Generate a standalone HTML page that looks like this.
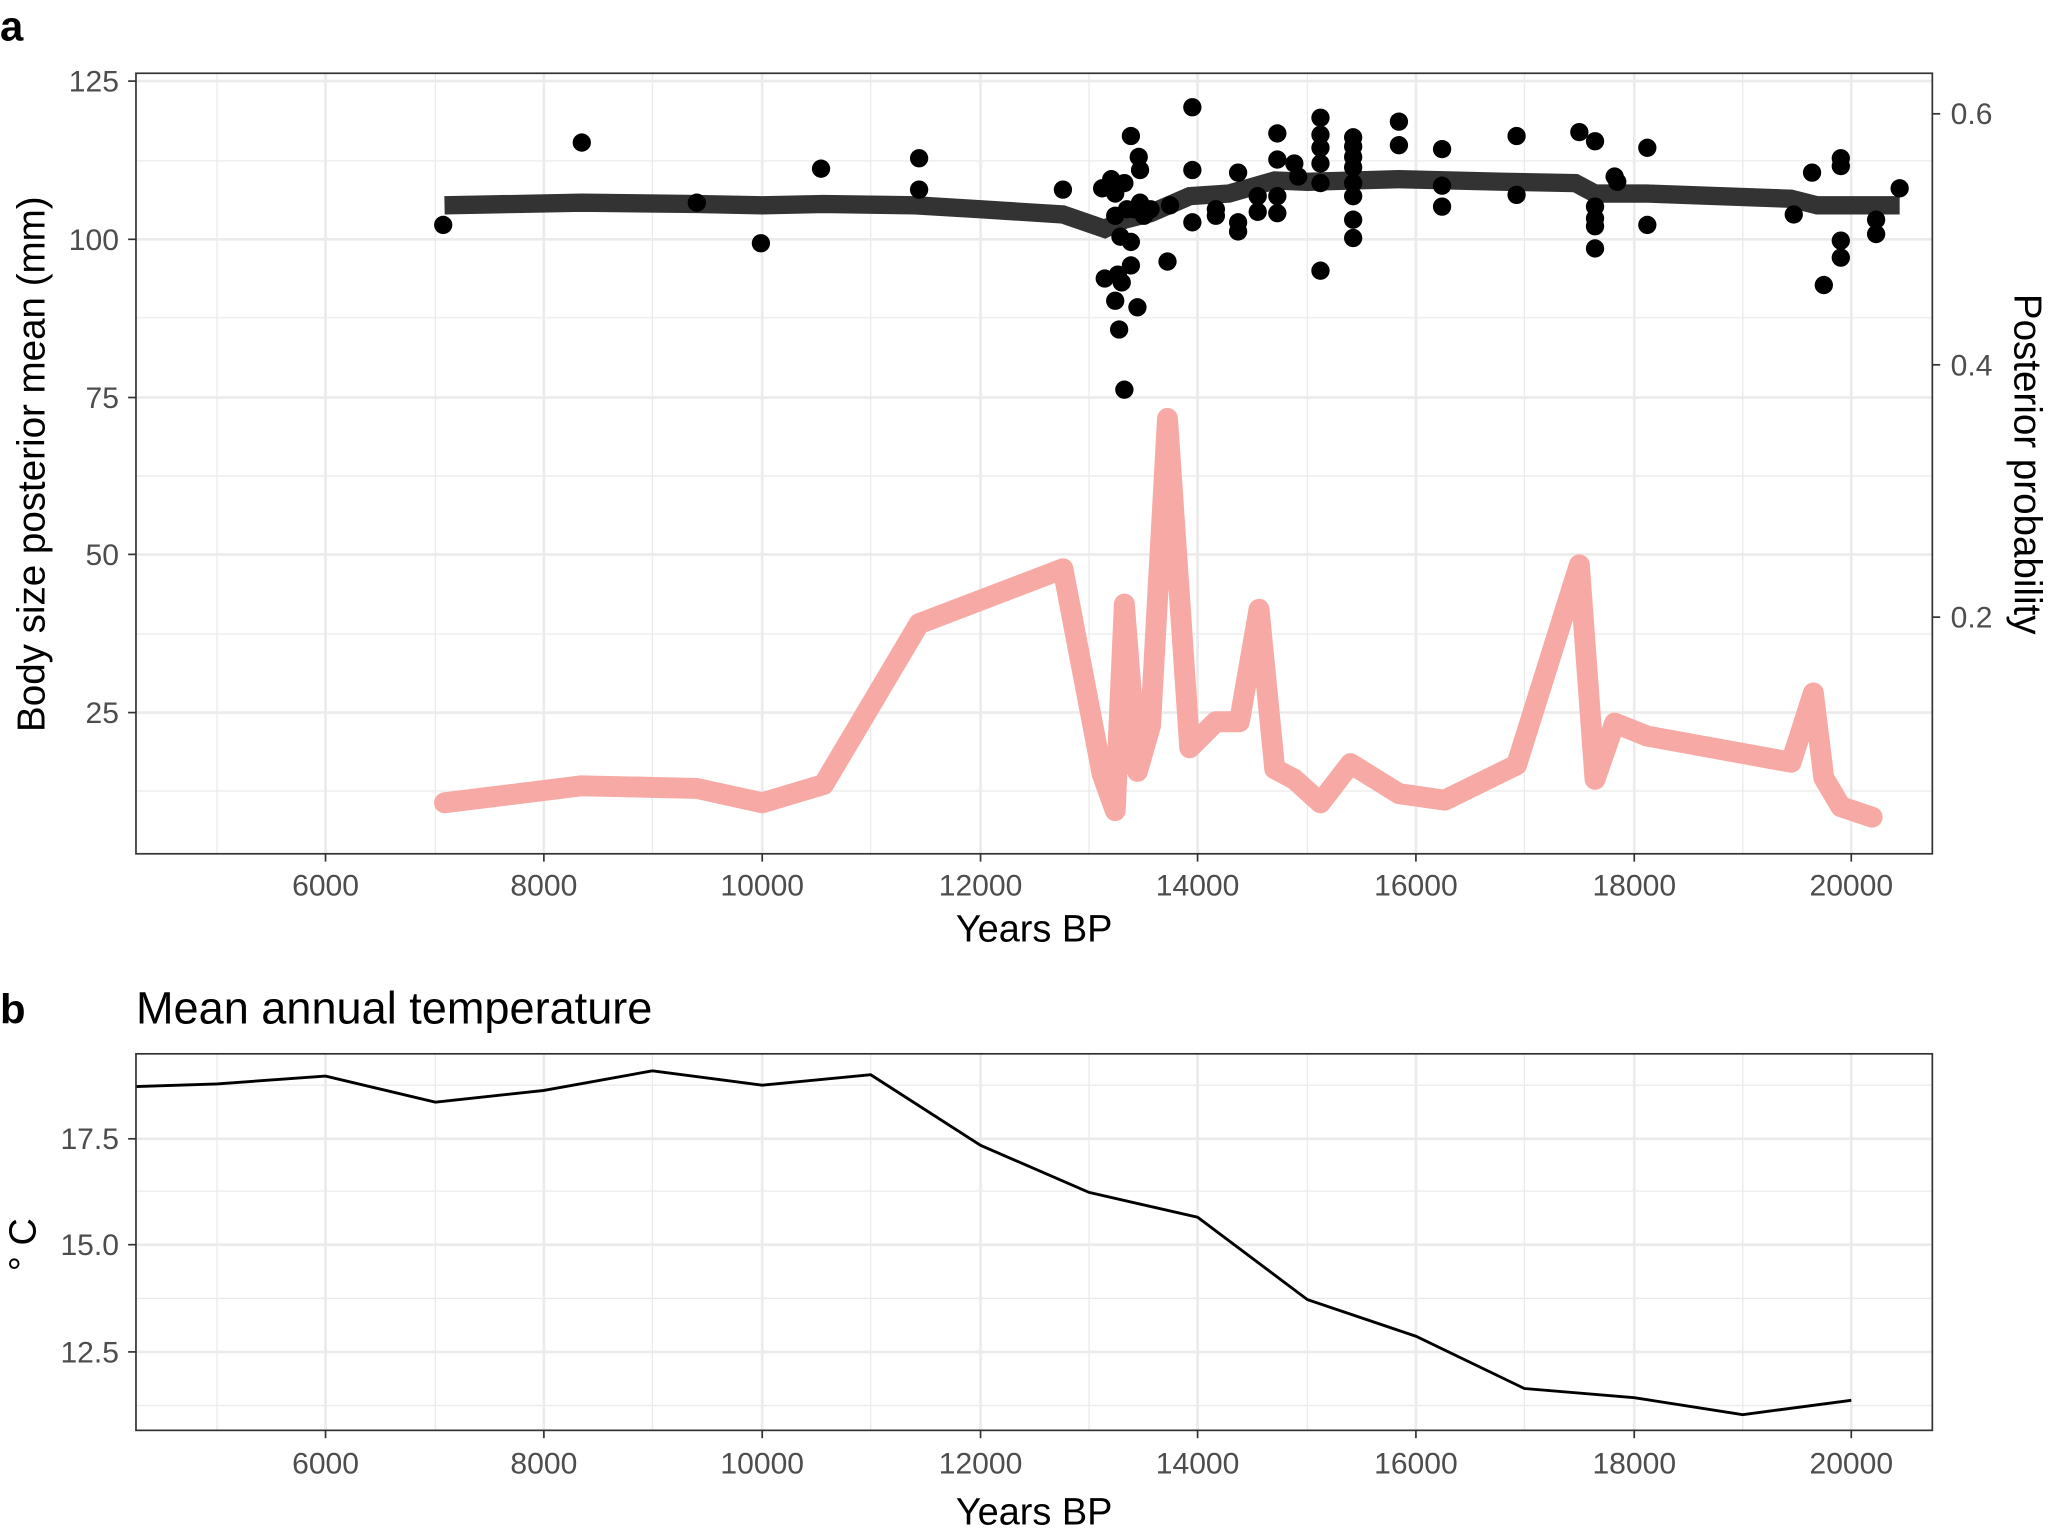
<!DOCTYPE html>
<html><head><meta charset="utf-8"><style>html,body{margin:0;padding:0;background:#fff}svg{display:block}</style></head>
<body>
<svg width="2050" height="1535" viewBox="0 0 1568 1174" xmlns="http://www.w3.org/2000/svg" font-family="Liberation Sans, sans-serif">
<rect width="1568" height="1174" fill="#fff"/>
<g stroke="#ebebeb" stroke-width="1">
<line x1="104" x2="1478" y1="123" y2="123"/><line x1="104" x2="1478" y1="243" y2="243"/><line x1="104" x2="1478" y1="364" y2="364"/><line x1="104" x2="1478" y1="485" y2="485"/><line x1="104" x2="1478" y1="605" y2="605"/>
<line x1="166" x2="166" y1="56" y2="653"/><line x1="333" x2="333" y1="56" y2="653"/><line x1="499" x2="499" y1="56" y2="653"/><line x1="666" x2="666" y1="56" y2="653"/><line x1="833" x2="833" y1="56" y2="653"/><line x1="1000" x2="1000" y1="56" y2="653"/><line x1="1166" x2="1166" y1="56" y2="653"/><line x1="1333" x2="1333" y1="56" y2="653"/>
</g>
<g stroke="#ebebeb" stroke-width="2">
<line x1="104" x2="1478" y1="62" y2="62"/><line x1="104" x2="1478" y1="183" y2="183"/><line x1="104" x2="1478" y1="304" y2="304"/><line x1="104" x2="1478" y1="424" y2="424"/><line x1="104" x2="1478" y1="545" y2="545"/>
<line x1="249" x2="249" y1="56" y2="653"/><line x1="416" x2="416" y1="56" y2="653"/><line x1="583" x2="583" y1="56" y2="653"/><line x1="750" x2="750" y1="56" y2="653"/><line x1="916" x2="916" y1="56" y2="653"/><line x1="1083" x2="1083" y1="56" y2="653"/><line x1="1250" x2="1250" y1="56" y2="653"/><line x1="1416" x2="1416" y1="56" y2="653"/>
</g>
<polyline fill="none" stroke="#f7a9a5" stroke-width="16" stroke-linejoin="round" stroke-linecap="round" points="340,614 445,601 533,603 583,614 630,600 703,477 813,435 843,592 853,620 860,462 870,590 880,555 893,320 910,572 930,552 948,552 963,466 975,588 990,596 1010,614 1033,584 1070,607 1105,612 1160,585 1208,432 1220,596 1235,553 1260,563 1370,583 1387,530 1395,595 1408,617 1432,625"/>
<polyline fill="none" stroke="#333" stroke-width="14" points="340,157 445,155 533,156 583,157 630,156 700,157 750,160 813,164 845,175 860,168 880,163 910,150 940,148 975,138 1000,139 1035,138 1070,137 1150,139 1205,140 1220,148 1260,148 1370,152 1390,157 1453,157"/>
<g fill="#000">
<circle cx="339" cy="172" r="7"/><circle cx="445" cy="109" r="7"/><circle cx="533" cy="155" r="7"/><circle cx="582" cy="186" r="7"/><circle cx="628" cy="129" r="7"/><circle cx="703" cy="121" r="7"/><circle cx="703" cy="145" r="7"/><circle cx="813" cy="145" r="7"/><circle cx="843" cy="144" r="7"/><circle cx="845" cy="213" r="7"/><circle cx="850" cy="137" r="7"/><circle cx="853" cy="148" r="7"/><circle cx="853" cy="165" r="7"/><circle cx="853" cy="230" r="7"/><circle cx="855" cy="210" r="7"/><circle cx="856" cy="252" r="7"/><circle cx="857" cy="181" r="7"/><circle cx="858" cy="216" r="7"/><circle cx="860" cy="298" r="7"/><circle cx="860" cy="140" r="7"/><circle cx="862" cy="160" r="7"/><circle cx="865" cy="104" r="7"/><circle cx="865" cy="185" r="7"/><circle cx="865" cy="203" r="7"/><circle cx="868" cy="160" r="7"/><circle cx="870" cy="235" r="7"/><circle cx="871" cy="120" r="7"/><circle cx="872" cy="130" r="7"/><circle cx="872" cy="155" r="7"/><circle cx="875" cy="165" r="7"/><circle cx="880" cy="160" r="7"/><circle cx="893" cy="200" r="7"/><circle cx="895" cy="157" r="7"/><circle cx="912" cy="82" r="7"/><circle cx="912" cy="130" r="7"/><circle cx="912" cy="170" r="7"/><circle cx="930" cy="160" r="7"/><circle cx="930" cy="165" r="7"/><circle cx="947" cy="132" r="7"/><circle cx="947" cy="170" r="7"/><circle cx="947" cy="177" r="7"/><circle cx="962" cy="150" r="7"/><circle cx="962" cy="162" r="7"/><circle cx="977" cy="102" r="7"/><circle cx="977" cy="122" r="7"/><circle cx="977" cy="150" r="7"/><circle cx="977" cy="163" r="7"/><circle cx="990" cy="125" r="7"/><circle cx="993" cy="135" r="7"/><circle cx="1010" cy="90" r="7"/><circle cx="1010" cy="103" r="7"/><circle cx="1010" cy="113" r="7"/><circle cx="1010" cy="125" r="7"/><circle cx="1010" cy="140" r="7"/><circle cx="1010" cy="207" r="7"/><circle cx="1035" cy="105" r="7"/><circle cx="1035" cy="112" r="7"/><circle cx="1035" cy="120" r="7"/><circle cx="1035" cy="128" r="7"/><circle cx="1035" cy="140" r="7"/><circle cx="1035" cy="150" r="7"/><circle cx="1035" cy="168" r="7"/><circle cx="1035" cy="182" r="7"/><circle cx="1070" cy="93" r="7"/><circle cx="1070" cy="111" r="7"/><circle cx="1103" cy="114" r="7"/><circle cx="1103" cy="142" r="7"/><circle cx="1103" cy="158" r="7"/><circle cx="1160" cy="104" r="7"/><circle cx="1160" cy="149" r="7"/><circle cx="1208" cy="101" r="7"/><circle cx="1220" cy="108" r="7"/><circle cx="1220" cy="158" r="7"/><circle cx="1220" cy="167" r="7"/><circle cx="1220" cy="173" r="7"/><circle cx="1220" cy="190" r="7"/><circle cx="1235" cy="135" r="7"/><circle cx="1237" cy="139" r="7"/><circle cx="1260" cy="113" r="7"/><circle cx="1260" cy="172" r="7"/><circle cx="1372" cy="164" r="7"/><circle cx="1386" cy="132" r="7"/><circle cx="1395" cy="218" r="7"/><circle cx="1408" cy="121" r="7"/><circle cx="1408" cy="127" r="7"/><circle cx="1408" cy="184" r="7"/><circle cx="1408" cy="197" r="7"/><circle cx="1435" cy="168" r="7"/><circle cx="1435" cy="179" r="7"/><circle cx="1453" cy="144" r="7"/>
</g>
<rect x="104" y="56" width="1374" height="597" fill="none" stroke="#333" stroke-width="1.3"/>
<g stroke="#333" stroke-width="1.3">
<line x1="98" x2="104" y1="62" y2="62"/><line x1="98" x2="104" y1="183" y2="183"/><line x1="98" x2="104" y1="304" y2="304"/><line x1="98" x2="104" y1="424" y2="424"/><line x1="98" x2="104" y1="545" y2="545"/>
<line x1="1478" x2="1484" y1="87" y2="87"/><line x1="1478" x2="1484" y1="279" y2="279"/><line x1="1478" x2="1484" y1="472" y2="472"/>
<line x1="249" x2="249" y1="653" y2="659"/><line x1="416" x2="416" y1="653" y2="659"/><line x1="583" x2="583" y1="653" y2="659"/><line x1="750" x2="750" y1="653" y2="659"/><line x1="916" x2="916" y1="653" y2="659"/><line x1="1083" x2="1083" y1="653" y2="659"/><line x1="1250" x2="1250" y1="653" y2="659"/><line x1="1416" x2="1416" y1="653" y2="659"/>
</g>
<g font-size="23" fill="#4d4d4d" text-anchor="end">
<text x="91" y="70">125</text><text x="91" y="191">100</text><text x="91" y="312">75</text><text x="91" y="432">50</text><text x="91" y="553">25</text>
</g>
<g font-size="23" fill="#4d4d4d">
<text x="1492" y="95">0.6</text><text x="1492" y="287">0.4</text><text x="1492" y="480">0.2</text>
</g>
<g font-size="23" fill="#4d4d4d" text-anchor="middle">
<text x="249" y="685">6000</text><text x="416" y="685">8000</text><text x="583" y="685">10000</text><text x="750" y="685">12000</text><text x="916" y="685">14000</text><text x="1083" y="685">16000</text><text x="1250" y="685">18000</text><text x="1416" y="685">20000</text>
</g>
<text x="791" y="720" font-size="29" text-anchor="middle">Years BP</text>
<text transform="translate(34,355) rotate(-90)" font-size="29.5" text-anchor="middle">Body size posterior mean (mm)</text>
<text transform="translate(1541,355) rotate(90)" font-size="29.5" text-anchor="middle">Posterior probability</text>
<text x="0" y="31" font-size="32" font-weight="bold">a</text>
<text x="0" y="783" font-size="32" font-weight="bold">b</text>
<text x="104" y="783" font-size="34.5">Mean annual temperature</text>
<g stroke="#ebebeb" stroke-width="1">
<line x1="104" x2="1478" y1="830" y2="830"/><line x1="104" x2="1478" y1="911" y2="911"/><line x1="104" x2="1478" y1="993" y2="993"/><line x1="104" x2="1478" y1="1075" y2="1075"/>
<line x1="166" x2="166" y1="806" y2="1094"/><line x1="333" x2="333" y1="806" y2="1094"/><line x1="499" x2="499" y1="806" y2="1094"/><line x1="666" x2="666" y1="806" y2="1094"/><line x1="833" x2="833" y1="806" y2="1094"/><line x1="1000" x2="1000" y1="806" y2="1094"/><line x1="1166" x2="1166" y1="806" y2="1094"/><line x1="1333" x2="1333" y1="806" y2="1094"/>
</g>
<g stroke="#ebebeb" stroke-width="2">
<line x1="104" x2="1478" y1="871" y2="871"/><line x1="104" x2="1478" y1="952" y2="952"/><line x1="104" x2="1478" y1="1034" y2="1034"/>
<line x1="249" x2="249" y1="806" y2="1094"/><line x1="416" x2="416" y1="806" y2="1094"/><line x1="583" x2="583" y1="806" y2="1094"/><line x1="750" x2="750" y1="806" y2="1094"/><line x1="916" x2="916" y1="806" y2="1094"/><line x1="1083" x2="1083" y1="806" y2="1094"/><line x1="1250" x2="1250" y1="806" y2="1094"/><line x1="1416" x2="1416" y1="806" y2="1094"/>
</g>
<polyline fill="none" stroke="#000" stroke-width="2.2" points="104,831 166,829 249,823 333,843 416,834 499,819 583,830 666,822 750,876 833,912 916,931 1000,994 1083,1022 1166,1062 1250,1069 1333,1082 1416,1071"/>
<rect x="104" y="806" width="1374" height="288" fill="none" stroke="#333" stroke-width="1.3"/>
<g stroke="#333" stroke-width="1.3">
<line x1="98" x2="104" y1="871" y2="871"/><line x1="98" x2="104" y1="952" y2="952"/><line x1="98" x2="104" y1="1034" y2="1034"/>
<line x1="249" x2="249" y1="1094" y2="1100"/><line x1="416" x2="416" y1="1094" y2="1100"/><line x1="583" x2="583" y1="1094" y2="1100"/><line x1="750" x2="750" y1="1094" y2="1100"/><line x1="916" x2="916" y1="1094" y2="1100"/><line x1="1083" x2="1083" y1="1094" y2="1100"/><line x1="1250" x2="1250" y1="1094" y2="1100"/><line x1="1416" x2="1416" y1="1094" y2="1100"/>
</g>
<g font-size="23" fill="#4d4d4d" text-anchor="end">
<text x="91" y="879">17.5</text><text x="91" y="960">15.0</text><text x="91" y="1042">12.5</text>
</g>
<g font-size="23" fill="#4d4d4d" text-anchor="middle">
<text x="249" y="1127">6000</text><text x="416" y="1127">8000</text><text x="583" y="1127">10000</text><text x="750" y="1127">12000</text><text x="916" y="1127">14000</text><text x="1083" y="1127">16000</text><text x="1250" y="1127">18000</text><text x="1416" y="1127">20000</text>
</g>
<text x="791" y="1166" font-size="29" text-anchor="middle">Years BP</text>
<text transform="translate(27,952) rotate(-90)" font-size="29" text-anchor="middle">° C</text>
</svg>
</body></html>
